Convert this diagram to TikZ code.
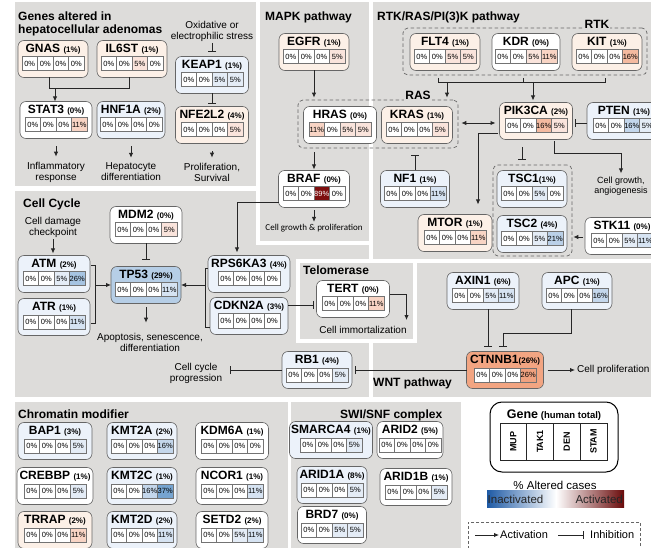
\documentclass[tikz,border=0pt]{standalone}
\usepackage{fontspec}
\setmainfont{Liberation Sans}
\newfontfamily\carl{Carlito}
\usetikzlibrary{arrows.meta,calc}

\definecolor{panelgray}{RGB}{221,220,218}
\definecolor{bo}{RGB}{252,240,231}
\definecolor{bb}{RGB}{236,242,250}
\definecolor{tpb}{RGB}{182,206,230}
\definecolor{ctn}{RGB}{242,165,130}
\definecolor{cw}{RGB}{255,255,255}
\definecolor{r5}{RGB}{250,228,220}
\definecolor{r11}{RGB}{248,212,196}
\definecolor{r16}{RGB}{244,186,160}
\definecolor{r26}{RGB}{240,162,128}
\definecolor{dr}{RGB}{125,15,15}
\definecolor{b5}{RGB}{228,236,246}
\definecolor{b11}{RGB}{214,227,242}
\definecolor{b16}{RGB}{196,215,236}
\definecolor{b21}{RGB}{186,208,232}
\definecolor{b26}{RGB}{166,196,226}
\definecolor{b37}{RGB}{118,164,208}
\definecolor{lgblue}{RGB}{30,90,165}
\definecolor{lgred}{RGB}{205,45,30}
\definecolor{lgdred}{RGB}{105,10,10}

\newcommand{\xgname}{\fontsize{12}{13}\selectfont\bfseries}
\newcommand{\xgpct}{\fontsize{8}{9}\selectfont\bfseries}
\newcommand{\xcellf}{\fontsize{7.5}{8}\selectfont}
\newcommand{\xlbl}{\fontsize{10}{11}\selectfont}
\newcommand{\xttl}{\fontsize{12}{13}\selectfont\bfseries}
\newcommand{\gpc}[1]{{\xgpct(#1\%)}}

\tikzset{
  genebox/.style={draw=black!60, line width=0.6pt, rounded corners=6pt, minimum height=37pt, inner sep=0pt, outer sep=0pt},
  gtitle/.style={anchor=north, inner sep=0pt, font=\xgname},
  cellbox/.style={draw=black!55, line width=0.45pt, minimum width=15.5pt, minimum height=14pt, inner sep=0pt, anchor=north, font=\xcellf},
  conn/.style={line width=0.9pt, draw=black!85},
  act/.style={conn, -{Latex[length=5pt,width=4.5pt]}},
  dact/.style={conn, {Latex[length=5pt,width=4.5pt]}-{Latex[length=5pt,width=4.5pt]}},
  inh/.style={conn, -{Bar[width=8pt]}},
  lbl/.style={font=\xlbl, align=center, inner sep=0pt},
  ptitle/.style={font=\xttl, anchor=base west, inner sep=0pt},
  dashbox/.style={draw=black!60, line width=0.7pt, dash pattern=on 3.5pt off 2.5pt, rounded corners=5pt, inner sep=0pt},
  grplbl/.style={font=\xgname, fill=panelgray, inner sep=1pt},
  sepline/.style={draw=white, line width=4.5pt},
}

\newcommand{\gene}[6]{%
  \node[genebox, fill=#4, minimum width=#3pt] (#1) at (#2) {};
  \node[gtitle] (#1-t) at ([yshift=-3.5pt]#1.north) {#5};
  \foreach \cc/\vv [count=\ii] in {#6} {%
    \node[cellbox, fill=\cc] (#1-c\ii) at ([xshift={(\ii-2.5)*15.5pt}, yshift=-16pt]#1.north) {\vv\%};
  }%
}

\begin{document}
\begin{tikzpicture}[x=1pt,y=-1pt]
\useasboundingbox (0,0) rectangle (651,548);
\fill[white] (0,0) rectangle (651,548);

% panels
\fill[panelgray] (15,2) rectangle (651,397);
\draw[sepline] (258,0) -- (258,243) -- (371,243);
\draw[sepline] (12,188.5) -- (258,188.5);
\draw[sepline] (371,0) -- (371,261);
\draw[sepline] (296,261) -- (655,261);
\draw[sepline] (298,261) -- (298,341) -- (415,341) -- (415,261);
\draw[sepline] (371,341) -- (371,400);
\fill[panelgray] (15,402) rectangle (288,552);
\fill[panelgray] (291,402) rectangle (461,552);

% panel titles
\node[ptitle] (tA1) at (18,21) {Genes altered in};
\node[ptitle] (tA2) at (18,33.5) {hepatocellular adenomas};
\node[ptitle] (tB) at (265,20.7) {MAPK pathway};
\node[ptitle] (tC) at (377,20.7) {RTK/RAS/PI(3)K pathway};
\node[ptitle] (tD) at (23,207.7) {Cell Cycle};
\node[ptitle] (tE) at (303,274.5) {Telomerase};
\node[ptitle] (tF) at (373,386.6) {WNT pathway};
\node[ptitle] (tG) at (18,418.7) {Chromatin modifier};
\node[ptitle] (tH) at (340,418.7) {SWI/SNF complex};

% dashed groups
\node[dashbox, minimum width=160pt, minimum height=48pt] (rasbox) at (378,124) {};
\node[grplbl] (raslbl) at (418,95.5) {RAS};
\node[dashbox, minimum width=244pt, minimum height=47pt] (rtkbox) at (525,51.5) {};
\node[grplbl] (rtklbl) at (597,24) {RTK};
\node[dashbox, minimum width=79pt, minimum height=91pt] (tscbox) at (532.5,210.5) {};

% genes: hepatocellular adenomas
\gene{GNAS}{53,59}{70}{bo}{GNAS \gpc{1}}{cw/0,cw/0,cw/0,cw/0}
\gene{IL6ST}{132,59}{70}{bo}{IL6ST \gpc{1}}{cw/0,cw/0,r5/5,cw/0}
\gene{KEAP1}{212,75}{73}{bb}{KEAP1 \gpc{1}}{cw/0,cw/0,b5/5,b5/5}
\gene{NFE2L2}{212,125}{73}{bo}{NFE2L2 \gpc{4}}{cw/0,cw/0,cw/0,r5/5}
\gene{STAT3}{56,120}{72}{white}{STAT3 \gpc{0}}{cw/0,cw/0,cw/0,r11/11}
\gene{HNF1A}{131,120}{68}{bb}{HNF1A \gpc{2}}{cw/0,cw/0,cw/0,cw/0}
% MAPK
\gene{EGFR}{314,52}{70}{bo}{EGFR \gpc{1}}{cw/0,cw/0,cw/0,r5/5}
\gene{HRAS}{340,125}{73}{white}{HRAS \gpc{0}}{r11/11,cw/0,r5/5,r5/5}
\gene{KRAS}{417,125}{71}{bo}{KRAS \gpc{1}}{cw/0,cw/0,cw/0,r5/5}
\gene{BRAF}{314,189}{71}{white}{BRAF \gpc{0}}{cw/0,cw/0,dr/\color{white}89,cw/0}
\gene{NF1}{415,189}{69}{bb}{NF1 \gpc{1}}{cw/0,cw/0,cw/0,b11/11}
% RTK
\gene{FLT4}{445,52}{70}{bo}{FLT4 \gpc{1}}{cw/0,cw/0,r5/5,r5/5}
\gene{KDR}{526,52}{68}{white}{KDR \gpc{0}}{cw/0,cw/0,r5/5,r11/11}
\gene{KIT}{607,52}{70}{bo}{KIT \gpc{1}}{cw/0,cw/0,cw/0,r16/16}
\gene{PIK3CA}{536,121}{73}{bo}{PIK3CA \gpc{2}}{cw/0,cw/0,r16/16,r5/5}
\gene{PTEN}{624,121}{74}{bb}{PTEN \gpc{1}}{cw/0,cw/0,b16/16,b5/5}
\gene{TSC1}{532,189}{70}{bb}{TSC1\gpc{1}}{cw/0,cw/0,b5/5,cw/0}
\gene{TSC2}{532,234}{70}{bb}{TSC2 \gpc{4}}{cw/0,cw/0,b5/5,b21/21}
\gene{STK11}{622,236}{74}{white}{STK11 \gpc{0}}{cw/0,cw/0,b5/5,b11/11}
\gene{MTOR}{455,233}{74}{bo}{MTOR \gpc{1}}{cw/0,cw/0,cw/0,r11/11}
% Cell cycle
\gene{MDM2}{146,225}{72}{white}{MDM2 \gpc{0}}{cw/0,cw/0,cw/0,r5/5}
\gene{ATM}{54,274}{72}{bb}{ATM \gpc{2}}{cw/0,cw/0,b5/5,b26/26}
\gene{ATR}{54,317}{72}{bb}{ATR \gpc{1}}{cw/0,cw/0,cw/0,b11/11}
\gene{TP53}{146,285}{70}{tpb}{TP53 \gpc{29}}{cw/0,cw/0,cw/0,b11/11}
\gene{RPS6KA3}{249,274}{82}{bb}{RPS6KA3 \gpc{4}}{cw/0,cw/0,cw/0,cw/0}
\gene{CDKN2A}{249,316}{78}{bb}{CDKN2A \gpc{3}}{cw/0,cw/0,cw/0,cw/0}
\gene{TERT}{353,299}{73}{white}{TERT \gpc{0}}{cw/0,cw/0,cw/0,r11/11}
\gene{RB1}{317,370}{70}{bb}{RB1 \gpc{4}}{cw/0,cw/0,cw/0,b5/5}
% WNT
\gene{AXIN1}{483,291}{72}{bb}{AXIN1 \gpc{6}}{cw/0,cw/0,b5/5,b11/11}
\gene{APC}{577,291}{70}{bb}{APC \gpc{1}}{cw/0,cw/0,cw/0,b16/16}
\gene{CTNNB1}{505,370}{77}{ctn}{CTNNB1\gpc{26}}{cw/0,cw/0,cw/0,r26/26}
% Chromatin modifier
\gene{BAP1}{55,441}{74}{bb}{BAP1 \gpc{3}}{cw/0,cw/0,cw/0,b5/5}
\gene{KMT2A}{142,441}{70}{bb}{KMT2A \gpc{2}}{cw/0,cw/0,cw/0,b16/16}
\gene{KDM6A}{232,441}{73}{white}{KDM6A \gpc{1}}{cw/0,cw/0,cw/0,cw/0}
\gene{CREBBP}{55,486}{76}{white}{CREBBP \gpc{1}}{cw/0,cw/0,cw/0,b5/5}
\gene{KMT2C}{142,486}{70}{bb}{KMT2C \gpc{1}}{cw/0,cw/0,b16/16,b37/37}
\gene{NCOR1}{232,486}{72}{white}{NCOR1 \gpc{1}}{cw/0,cw/0,cw/0,b11/11}
\gene{TRRAP}{55,530}{74}{bo}{TRRAP \gpc{2}}{cw/0,cw/0,cw/0,r11/11}
\gene{KMT2D}{142,530}{70}{bb}{KMT2D \gpc{2}}{cw/0,cw/0,cw/0,b11/11}
\gene{SETD2}{232,530}{72}{white}{SETD2 \gpc{2}}{cw/0,cw/0,b5/5,b11/11}
% SWI/SNF
\gene{SMARCA4}{331,440}{83}{bb}{SMARCA4 \gpc{1}}{cw/0,cw/0,cw/0,b5/5}
\gene{ARID2}{410,440}{66}{white}{ARID2 \gpc{5}}{cw/0,cw/0,cw/0,cw/0}
\gene{ARID1A}{332,485}{70}{bb}{ARID1A \gpc{8}}{cw/0,cw/0,cw/0,b5/5}
\gene{ARID1B}{416,487}{72}{white}{ARID1B \gpc{1}}{cw/0,cw/0,cw/0,b5/5}
\gene{BRD7}{332,525}{69}{white}{BRD7 \gpc{0}}{cw/0,cw/0,b5/5,b5/5}

% labels
\node[lbl] (oxi) at (212,31.5) {Oxidative or\\electrophilic stress};
\node[lbl] (infl) at (56,172) {Inflammatory\\response};
\node[lbl] (hepd) at (131,172) {Hepatocyte\\differentiation};
\node[lbl] (prol) at (212,172) {Proliferation,\\Survival};
\node[lbl, font=\carl\fontsize{9}{10}\selectfont] (cgp) at (314,228) {Cell growth \& proliferation};
\node[lbl, font=\fontsize{9}{10.5}\selectfont] (cga) at (621,186) {Cell growth,\\angiogenesis};
\node[lbl] (cdc) at (53,227) {Cell damage\\checkpoint};
\node[lbl] (apo) at (150,342) {Apoptosis, senescence,\\differentiation};
\node[lbl] (ccp) at (196,373) {Cell cycle\\progression};
\node[lbl] (imm) at (363,330) {Cell immortalization};
\node[lbl, anchor=west] (cpr) at (577,370) {Cell proliferation};

% connectors: hepatocellular adenomas
\draw[conn] ($(GNAS.south)+(-4,0)$) -- ++(0,11) -| ($(IL6ST.south)+(-3,0)$);
\draw[act] ($(GNAS.south)+(2,11)$) coordinate (g1) -- (g1 |- STAT3.north);
\draw[act] ($(STAT3.south)+(0,8)$) coordinate (s1) -- ($(s1 |- infl.north)+(0,-5)$);
\draw[act] ($(HNF1A.south)+(0,8)$) coordinate (s2) -- ($(s2 |- hepd.north)+(0,-5)$);
\draw[act] ($(NFE2L2.south)+(0,8)$) coordinate (s3) -- ($(s3 |- prol.north)+(0,-5)$);
\draw[inh] ($(oxi.south)+(0,1)$) -- ($(KEAP1.north)+(0,-4.5)$);
\draw[inh] (KEAP1.south) -- ($(NFE2L2.north)+(0,-3)$);

% MAPK
\draw[act] (EGFR.south) -- ($(EGFR.south |- rasbox.north)+(0,-2)$);
\draw[act] ($(rasbox.south -| BRAF.north)+(0,4)$) -- ($(BRAF.north)+(0,-1)$);
\draw[act] ($(BRAF.south)+(0,3)$) -- ($(BRAF.south |- cgp.north)+(0,-2)$);
\draw[act] ($(BRAF.west)+(0,13)$) -| ($(RPS6KA3.north)+(-12,-3)$);

% RTK / RAS / PI3K
\draw[conn] ($(FLT4.south)+(-7,7.5)$) -- ++(0,4) -| ($(KIT.south)+(-2,7.5)$);
\draw[conn] ($(KDR.south)+(-3,7.5)$) -- ++(0,4);
\draw[act] ($(FLT4.south)+(2,11.5)$) coordinate (r1) -- ($(r1 |- rasbox.north)+(0,-2)$);
\draw[act] ($(KDR.south)+(7,11.5)$) coordinate (r2) -- ($(r2 |- PIK3CA.north)+(0,-2)$);
\draw[dact] ($(rasbox.east)+(3,-1)$) -- ($(PIK3CA.west)+(-4,2)$);
\draw[inh] ($(PTEN.west)+(0,2)$) -- ($(PIK3CA.east)+(2.5,2)$);
\draw[act] ($(PIK3CA.west)+(-2,12)$) -| ($(MTOR.north)+(23,-10)$);
\draw[inh] ($(PIK3CA.south)+(-14,8)$) coordinate (t1) -- ($(t1 |- tscbox.north)+(0,-5)$);
\draw[act] ($(PIK3CA.south)+(18,2)$) -- ++(0,12) -| ($(cga.north)+(0,-3)$);
\draw[inh] (NF1.north) -- ($(NF1.north |- rasbox.south)+(0,7)$);
\draw[act] ($(STK11.west)+(-2,1)$) -- ($(tscbox.east |- STK11.west)+(1,1)$);

% Cell cycle
\draw[act] ($(cdc.south)+(0,2)$) coordinate (c1) -- ($(c1 |- ATM.north)+(0,-2)$);
\draw[conn] ($(ATM.east)+(1,-9)$) -| ($(ATR.east)+(5,6)$) -- ++(-4,0);
\draw[act] ($(ATM.east)+(5,11)$) -- (TP53.west);
\draw[inh] (MDM2.south) -- ($(TP53.north)+(0,-6.5)$);
\draw[act] ($(TP53.south)+(0,4)$) coordinate (c2) -- ($(c2 |- apo.north)+(0,-10)$);
\draw[conn] ($(RPS6KA3.west)+(0,-6)$) -| ($(CDKN2A.west)+(-5,11)$) -- ++(5,0);
\draw[act] ($(RPS6KA3.west)+(-3,11)$) -- (TP53.east);
\draw[inh] ($(CDKN2A.east)+(0,-11)$) coordinate (c3) -- ($(c3 -| TERT.west)+(-3,0)$);
\draw[act] ($(TERT.east)+(0,-5)$) -| ($(TERT.east)+(17,21)$);
\draw[inh] (RB1.west) -- ($(RB1.west -| ccp.east)+(8,0)$);

% WNT
\draw[inh] ($(AXIN1.south)+(5,0)$) coordinate (w1) -- ($(w1 |- CTNNB1.north)+(0,-4.5)$);
\draw[inh] ($(APC.south)+(-6,0)$) -- ++(0,23.5) -| ($(CTNNB1.north)+(-2,-4.5)$);
\draw[inh] (CTNNB1.west) -- ($(CTNNB1.west -| RB1.east)+(3,0)$);
\draw[act] ($(CTNNB1.east)+(4,0)$) -- ($(cpr.west)+(-2,0)$);

% legend
\node[draw=black, line width=1pt, rounded corners=12pt, minimum width=128pt, minimum height=70pt, inner sep=0pt] (legend) at (554,437) {};
\node[anchor=base, inner sep=0pt] (lgtitle) at (554,418.5) {{\fontsize{12.5}{14}\selectfont\bfseries Gene} {\fontsize{9.5}{11}\selectfont\bfseries(human total)}};
\foreach \n/\t [count=\k] in {lgA/MUP,lgB/TAK1,lgC/DEN,lgD/STAM} {
  \node[draw=black!85, line width=0.8pt, minimum width=26.75pt, minimum height=37pt, inner sep=0pt, font=\fontsize{9}{10}\selectfont\bfseries] (\n) at ({500+(\k-0.5)*26.75}, 441.5) {\rotatebox{90}{\t}};
}
\node[inner sep=0pt, font=\fontsize{11.5}{13}\selectfont] (lgalt) at (555,485) {\% Altered cases};
\shade[left color=lgblue, right color=white] (487,490) rectangle (556,507);
\shade[left color=white, middle color=lgred, right color=lgdred] (556,490) rectangle (624,507);
\node[anchor=west, inner sep=0pt, font=\fontsize{11.5}{13}\selectfont, text=black!85] (lgin) at (487.5,499) {Inactivated};
\node[anchor=east, inner sep=0pt, font=\fontsize{11.5}{13}\selectfont, text=black!85] (lgac) at (623,499) {Activated};
\node[draw=black!60, line width=0.6pt, dash pattern=on 3pt off 2pt, minimum width=172pt, minimum height=32pt, inner sep=0pt] (lgbox) at (554,538) {};
\node[anchor=west, inner sep=0pt, font=\fontsize{11}{12}\selectfont] (lact) at (500,535) {Activation};
\draw[act] ($(lact.west)+(-25,0)$) -- ($(lact.west)+(-1,0)$);
\node[anchor=west, inner sep=0pt, font=\fontsize{11}{12}\selectfont] (linh) at (590,535) {Inhibition};
\draw[inh] ($(linh.west)+(-32,0)$) -- ($(linh.west)+(-6,0)$);
\end{tikzpicture}
\end{document}
